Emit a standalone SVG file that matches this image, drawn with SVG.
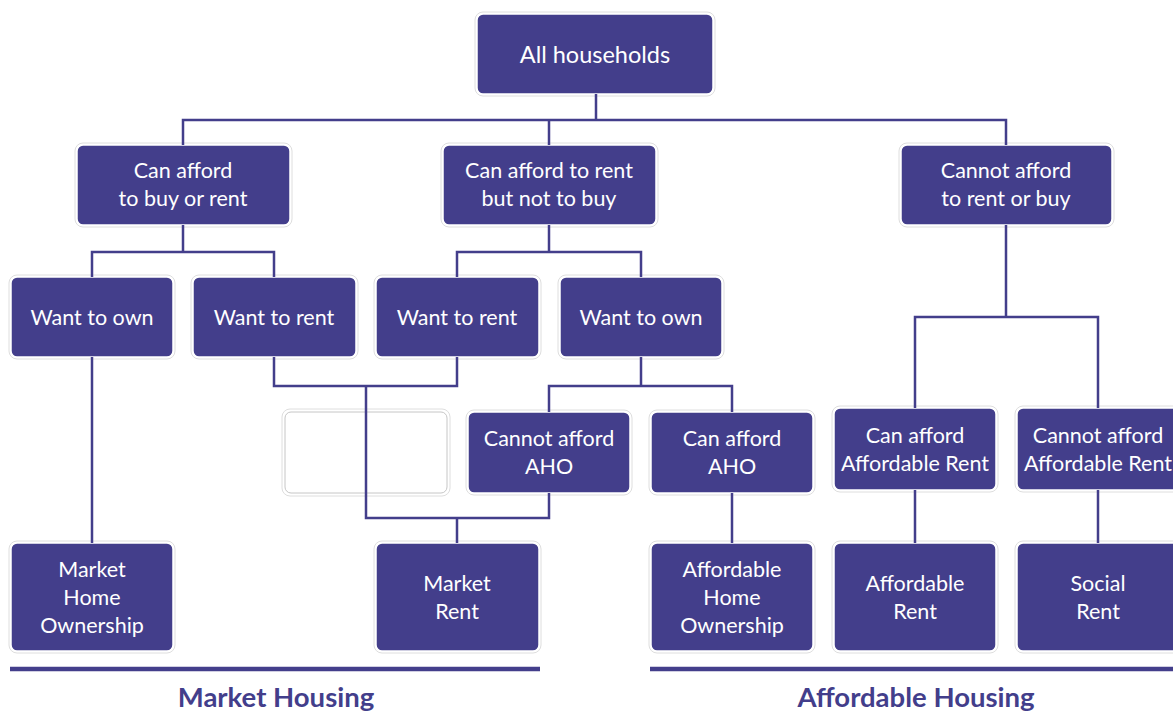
<svg xmlns="http://www.w3.org/2000/svg" width="1173" height="711" viewBox="0 0 1173 711">
  <style>
    .box { fill: #433E8B; stroke: #ffffff; stroke-width: 1.5; }
    .halo { fill: none; stroke: #dedede; stroke-width: 1; }
    .ghost { fill: #ffffff; stroke: #c6c6c6; stroke-width: 1; }
    .lbl { fill: #ffffff; font-family: Lato, "Open Sans", "Liberation Sans", sans-serif; font-size: 21.5px; text-anchor: middle; }
    .big { font-size: 23.5px; }
    .wire { fill: none; stroke: #433E8B; stroke-width: 2.5; }
    .rule { stroke: #433E8B; stroke-width: 4.5; }
    .sect { fill: #433E8B; font-family: Lato, "Open Sans", "Liberation Sans", sans-serif; font-weight: bold; font-size: 27.5px; text-anchor: middle; }
  </style>

  <rect width="1173" height="711" fill="#ffffff"/>

  <!-- root -->
  <g id="all-households">
    <rect class="halo" x="475" y="12" width="240" height="84" rx="8"/>
    <rect class="box" x="477" y="14" width="236" height="80" rx="6"/>
    <text class="lbl big" x="595" y="63">All households</text>
  </g>

  <!-- second tier -->
  <g id="can-afford-buy-rent">
    <rect class="halo" x="75" y="143" width="217" height="84" rx="8"/>
    <rect class="box" x="77" y="145" width="213" height="80" rx="6"/>
    <text class="lbl" x="183" y="178">Can afford</text>
    <text class="lbl" x="183" y="206">to buy or rent</text>
  </g>
  <g id="can-rent-not-buy">
    <rect class="halo" x="441" y="143" width="217" height="84" rx="8"/>
    <rect class="box" x="443" y="145" width="213" height="80" rx="6"/>
    <text class="lbl" x="549" y="178">Can afford to rent</text>
    <text class="lbl" x="549" y="206">but not to buy</text>
  </g>
  <g id="cannot-afford-rent-buy">
    <rect class="halo" x="899" y="143" width="215" height="84" rx="8"/>
    <rect class="box" x="901" y="145" width="211" height="80" rx="6"/>
    <text class="lbl" x="1006" y="178">Cannot afford</text>
    <text class="lbl" x="1006" y="206">to rent or buy</text>
  </g>

  <!-- third tier -->
  <g id="want-own-1">
    <rect class="halo" x="9" y="275" width="166" height="84" rx="8"/>
    <rect class="box" x="11" y="277" width="162" height="80" rx="6"/>
    <text class="lbl" x="92" y="325">Want to own</text>
  </g>
  <g id="want-rent-1">
    <rect class="halo" x="191" y="275" width="167" height="84" rx="8"/>
    <rect class="box" x="193" y="277" width="163" height="80" rx="6"/>
    <text class="lbl" x="274" y="325">Want to rent</text>
  </g>
  <g id="want-rent-2">
    <rect class="halo" x="374" y="275" width="167" height="84" rx="8"/>
    <rect class="box" x="376" y="277" width="163" height="80" rx="6"/>
    <text class="lbl" x="457" y="325">Want to rent</text>
  </g>
  <g id="want-own-2">
    <rect class="halo" x="558" y="275" width="166" height="84" rx="8"/>
    <rect class="box" x="560" y="277" width="162" height="80" rx="6"/>
    <text class="lbl" x="641" y="325">Want to own</text>
  </g>

  <!-- fourth tier -->
  <g id="blank-slot">
    <rect class="halo" x="282" y="409" width="168" height="87" rx="8"/>
    <rect class="ghost" x="285" y="412" width="162" height="81" rx="6"/>
  </g>
  <g id="cannot-afford-aho">
    <rect class="halo" x="466" y="410" width="166" height="85" rx="8"/>
    <rect class="box" x="468" y="412" width="162" height="81" rx="6"/>
    <text class="lbl" x="549" y="446">Cannot afford</text>
    <text class="lbl" x="549" y="474">AHO</text>
  </g>
  <g id="can-afford-aho">
    <rect class="halo" x="649" y="410" width="166" height="85" rx="8"/>
    <rect class="box" x="651" y="412" width="162" height="81" rx="6"/>
    <text class="lbl" x="732" y="446">Can afford</text>
    <text class="lbl" x="732" y="474">AHO</text>
  </g>
  <g id="can-afford-affordable-rent">
    <rect class="halo" x="832" y="406" width="166" height="86" rx="8"/>
    <rect class="box" x="834" y="408" width="162" height="82" rx="6"/>
    <text class="lbl" x="915" y="443">Can afford</text>
    <text class="lbl" x="915" y="471">Affordable Rent</text>
  </g>
  <g id="cannot-afford-affordable-rent">
    <rect class="halo" x="1015" y="406" width="166" height="86" rx="8"/>
    <rect class="box" x="1017" y="408" width="162" height="82" rx="6"/>
    <text class="lbl" x="1098" y="443">Cannot afford</text>
    <text class="lbl" x="1098" y="471">Affordable Rent</text>
  </g>

  <!-- outcomes -->
  <g id="market-home-ownership">
    <rect class="halo" x="9" y="541" width="166" height="112" rx="8"/>
    <rect class="box" x="11" y="543" width="162" height="108" rx="6"/>
    <text class="lbl" x="92" y="577">Market</text>
    <text class="lbl" x="92" y="605">Home</text>
    <text class="lbl" x="92" y="633">Ownership</text>
  </g>
  <g id="market-rent">
    <rect class="halo" x="374" y="541" width="167" height="112" rx="8"/>
    <rect class="box" x="376" y="543" width="163" height="108" rx="6"/>
    <text class="lbl" x="457" y="591">Market</text>
    <text class="lbl" x="457" y="619">Rent</text>
  </g>
  <g id="affordable-home-ownership">
    <rect class="halo" x="649" y="541" width="166" height="112" rx="8"/>
    <rect class="box" x="651" y="543" width="162" height="108" rx="6"/>
    <text class="lbl" x="732" y="577">Affordable</text>
    <text class="lbl" x="732" y="605">Home</text>
    <text class="lbl" x="732" y="633">Ownership</text>
  </g>
  <g id="affordable-rent">
    <rect class="halo" x="832" y="541" width="166" height="112" rx="8"/>
    <rect class="box" x="834" y="543" width="162" height="108" rx="6"/>
    <text class="lbl" x="915" y="591">Affordable</text>
    <text class="lbl" x="915" y="619">Rent</text>
  </g>
  <g id="social-rent">
    <rect class="halo" x="1015" y="541" width="166" height="112" rx="8"/>
    <rect class="box" x="1017" y="543" width="162" height="108" rx="6"/>
    <text class="lbl" x="1098" y="591">Social</text>
    <text class="lbl" x="1098" y="619">Rent</text>
  </g>

  <!-- elbow connectors -->
  <g id="connectors">
    <path class="wire" d="M596 94 V120 M183 145 V120 H1006 V145 M549 120 V145"/>
    <path class="wire" d="M183 225 V252 M92 277 V252 H274 V277"/>
    <path class="wire" d="M549 225 V252 M457 277 V252 H641 V277"/>
    <path class="wire" d="M1006 225 V317 M915 408 V317 H1098 V408"/>
    <path class="wire" d="M92 357 V543"/>
    <path class="wire" d="M274 357 V386 H457 V357 M366 386 V518 H549 V493 M457 518 V543"/>
    <path class="wire" d="M641 357 V386 M549 412 V386 H732 V412"/>
    <path class="wire" d="M732 493 V543"/>
    <path class="wire" d="M915 490 V543 M1098 490 V543"/>
  </g>

  <!-- section rules and captions -->
  <g id="market-housing">
    <line class="rule" x1="10" y1="669" x2="540" y2="669"/>
    <text class="sect" x="276" y="707">Market Housing</text>
  </g>
  <g id="affordable-housing">
    <line class="rule" x1="650" y1="669" x2="1173" y2="669"/>
    <text class="sect" x="916" y="707">Affordable Housing</text>
  </g>
</svg>
